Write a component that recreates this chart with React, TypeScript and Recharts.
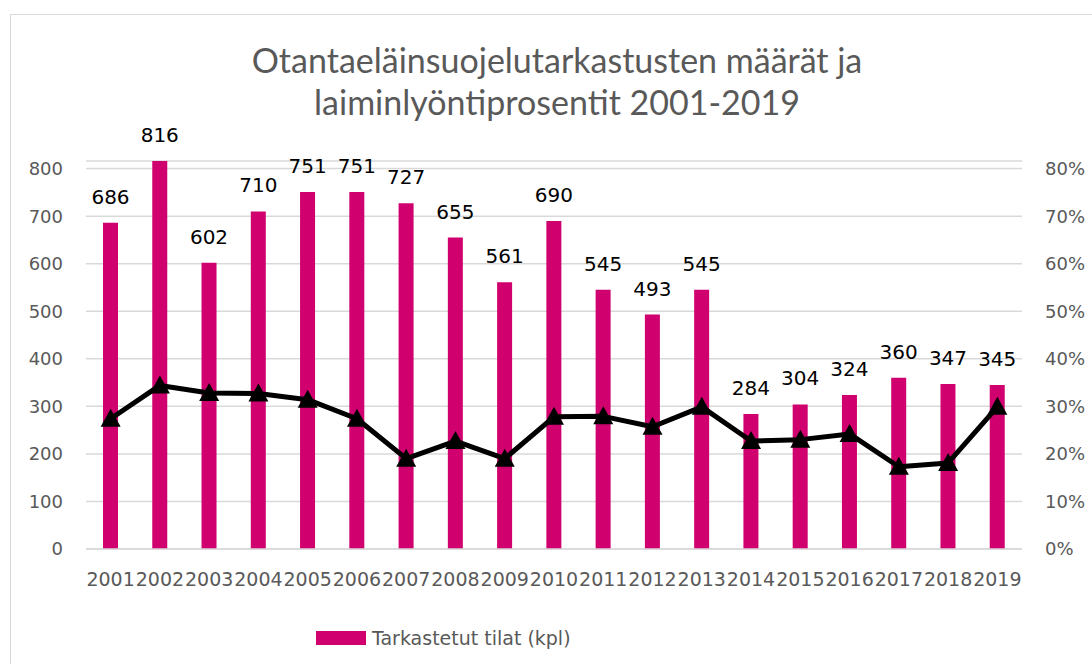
import { ComposedChart, Bar, Line, XAxis, YAxis, CartesianGrid, LabelList } from "recharts";

const YEARS = ["2001", "2002", "2003", "2004", "2005", "2006", "2007", "2008", "2009", "2010", "2011", "2012", "2013", "2014", "2015", "2016", "2017", "2018", "2019"];
const INSPECTED = [686, 816, 602, 710, 751, 751, 727, 655, 561, 690, 545, 493, 545, 284, 304, 324, 360, 347, 345];
const NEGLECT_PCT = [27.4, 34.4, 32.8, 32.7, 31.4, 27.4, 19.0, 22.7, 19.0, 27.8, 27.9, 25.7, 29.9, 22.7, 23.0, 24.2, 17.3, 18.1, 29.9];
const LEFT_TICKS = [0, 100, 200, 300, 400, 500, 600, 700, 800];
const RIGHT_TICKS = [0, 0.1, 0.2, 0.3, 0.4, 0.5, 0.6, 0.7, 0.8];

const BAR_COLOR = "#d0006f";
const AXIS_TEXT = "#595959";
const GRID = "#d9d9d9";
const FONT = "DejaVu Sans";

const data = YEARS.map((y, i) => ({ year: y, tilat: INSPECTED[i], pct: NEGLECT_PCT[i] / 100 }));

function Triangle(props: any) {
  const { cx, cy, index } = props;
  if (cx == null || cy == null) return null;
  return (
    <polygon key={`tri-${index}`} points={`${cx},${cy - 10} ${cx + 10},${cy + 8} ${cx - 10},${cy + 8}`} fill="#000" />
  );
}

export default function App() {
  return (
    <div style={{ position: "absolute", left: 0, top: 0, width: 1092, height: 664, background: "#fff", overflow: "hidden" }}>
      <div style={{ position: "absolute", left: 10, top: 14, width: 1200, height: 700, border: `1px solid ${GRID}` }} />
      <div style={{ position: "absolute", left: 0, top: 39, width: 1114, textAlign: "center", fontFamily: "Lato", fontSize: 34, lineHeight: "42px", color: AXIS_TEXT }}>
        <div>Otantaeläinsuojelutarkastusten määrät ja</div>
        <div>laiminlyöntiprosentit 2001-2019</div>
      </div>
      <div style={{ position: "absolute", left: 0, top: 0 }}>
        {/* right axis is 0..80 %, left axis top is the 816 bar so 800 lands on the top gridline */}
        <ComposedChart width={1092} height={664} data={data} margin={{ top: 161, right: 0, left: 0, bottom: 65 }}>
          <CartesianGrid vertical={false} stroke={GRID} strokeWidth={1.5} yAxisId="left" />
          <XAxis dataKey="year" interval={0} height={50} tickSize={0} tickMargin={24} axisLine={{ stroke: GRID, strokeWidth: 1.5 }} tick={{ fontSize: 19, fill: AXIS_TEXT, fontFamily: FONT }} />
          <YAxis yAxisId="left" domain={[0, 816]} ticks={LEFT_TICKS} width={86} tickSize={0} tickMargin={23} axisLine={false} tick={{ fontSize: 18, fill: AXIS_TEXT, fontFamily: FONT }} />
          <YAxis yAxisId="right" orientation="right" domain={[0, 0.816]} ticks={RIGHT_TICKS} width={70} tickSize={0} tickMargin={23} axisLine={false} tickFormatter={(v: number) => `${Math.round(v * 100)}%`} tick={{ fontSize: 18, fill: AXIS_TEXT, fontFamily: FONT }} />
          <Bar yAxisId="left" dataKey="tilat" fill={BAR_COLOR} barSize={15} isAnimationActive={false}>
            <LabelList dataKey="tilat" position="top" offset={19} style={{ fontSize: 20, fill: "#000", fontFamily: FONT }} />
          </Bar>
          <Line yAxisId="right" dataKey="pct" type="linear" stroke="#000" strokeWidth={5} strokeLinejoin="round" dot={<Triangle />} activeDot={false} isAnimationActive={false} />
        </ComposedChart>
      </div>
      <div style={{ position: "absolute", left: 316, top: 628, display: "flex", alignItems: "center", height: 20, fontFamily: FONT, fontSize: 19, color: AXIS_TEXT }}>
        <span style={{ display: "inline-block", width: 50, height: 14, background: BAR_COLOR, marginRight: 6 }} />
        <span>Tarkastetut tilat (kpl)</span>
      </div>
    </div>
  );
}
